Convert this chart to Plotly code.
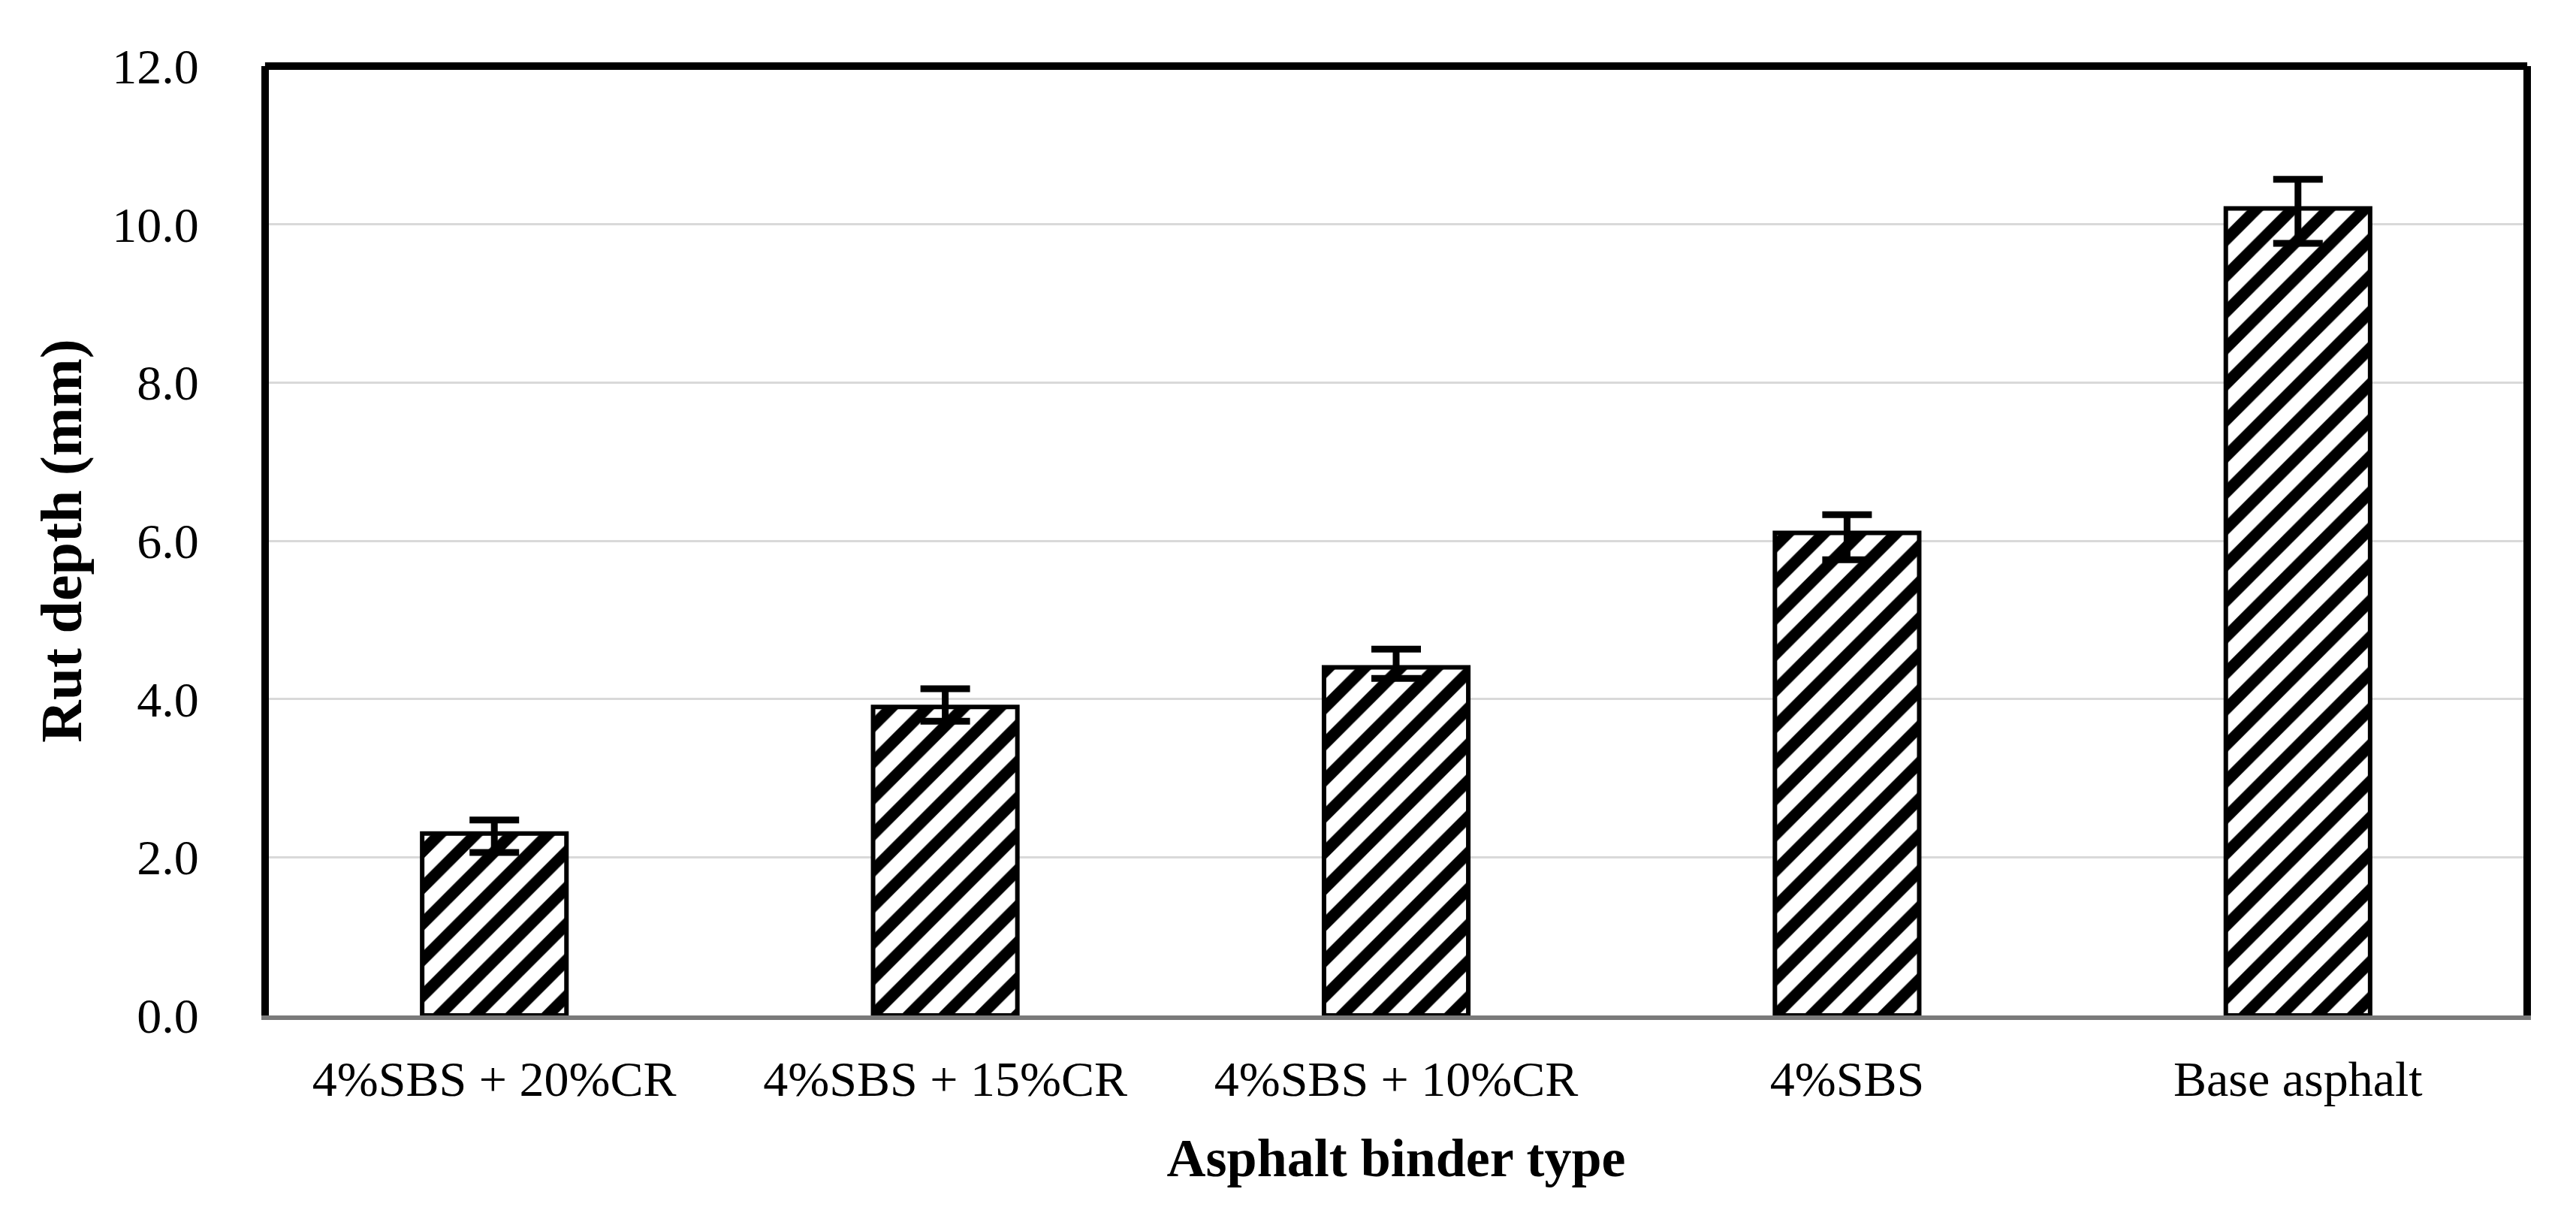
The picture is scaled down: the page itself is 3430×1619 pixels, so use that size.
import plotly.graph_objects as go

categories = ["4%SBS + 20%CR", "4%SBS + 15%CR", "4%SBS + 10%CR", "4%SBS", "Base asphalt"]
rut_depth = [2.3, 3.9, 4.4, 6.1, 10.2]
err_plus = [0.17, 0.23, 0.23, 0.23, 0.37]
err_minus = [0.24, 0.18, 0.14, 0.34, 0.44]
y_ticks = [0, 2, 4, 6, 8, 10, 12]

FONT = "Liberation Serif"

fig = go.Figure()
fig.add_trace(go.Bar(
    x=categories,
    y=rut_depth,
    marker=dict(
        color="white",
        line=dict(color="black", width=6),
        pattern=dict(shape="/", fgcolor="black", bgcolor="white", fgopacity=1,
                     size=34, solidity=0.45),
    ),
    error_y=dict(type="data", symmetric=False, array=err_plus, arrayminus=err_minus,
                 color="black", thickness=9, width=33),
    showlegend=False,
))

fig.update_layout(
    width=3430, height=1619,
    margin=dict(l=358, r=70, t=88, b=267),
    paper_bgcolor="white", plot_bgcolor="white",
    bargap=0.68,
    font=dict(family=FONT, color="black", size=66),
    xaxis=dict(
        showline=True, linecolor="#7a7a7a", linewidth=6,
        ticks="", showgrid=False,
        tickfont=dict(family=FONT, size=66, color="black"),
        ticklabelstandoff=22,
        title=dict(text="<b>Asphalt binder type</b>", font=dict(family=FONT, size=72, color="black"), standoff=45),
    ),
    yaxis=dict(
        range=[0, 12], tickvals=y_ticks, tickformat=".1f",
        showline=True, linecolor="black", linewidth=10, mirror=True,
        ticks="", zeroline=False,
        showgrid=True, gridcolor="#d9d9d9", gridwidth=3,
        tickfont=dict(family=FONT, size=66, color="black"),
        ticklabelstandoff=70,
        title=dict(text="<b>Rut depth (mm)</b>", font=dict(family=FONT, size=78, color="black"), standoff=19),
    ),
    shapes=[dict(type="line", xref="paper", yref="paper", x0=-0.0017, x1=1.0017, y0=1, y1=1,
                 line=dict(color="black", width=10))],
)

fig.write_html("out.html")
